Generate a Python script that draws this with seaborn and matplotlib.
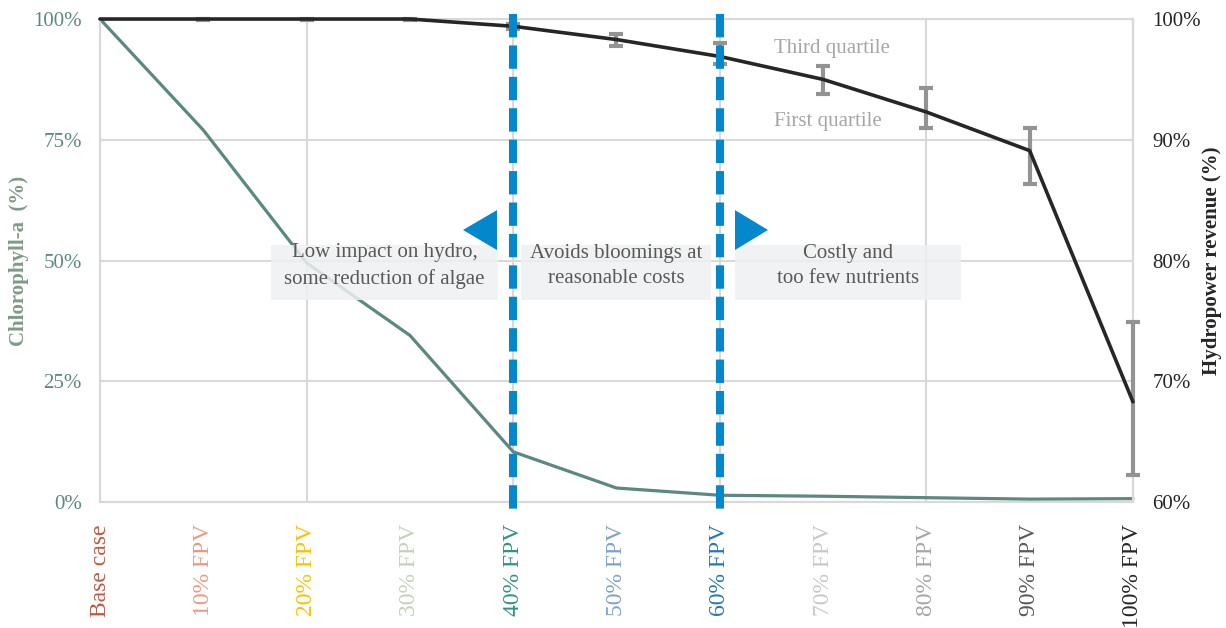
import numpy as np
import pandas as pd
import matplotlib
matplotlib.use('Agg')
import matplotlib.pyplot as plt
from matplotlib.ticker import PercentFormatter
from matplotlib.patches import Rectangle, Polygon
import seaborn as sns

# values
categories = ['Base case', '10% FPV', '20% FPV', '30% FPV', '40% FPV', '50% FPV',
              '60% FPV', '70% FPV', '80% FPV', '90% FPV', '100% FPV']
label_colors = ['#C0583F', '#F0987E', '#FFC000', '#C4D3B8', '#2E9484', '#7FA1CF',
                '#2277BA', '#C8C8C8', '#A6A6A6', '#595959', '#262626']
chlorophyll = [100, 77, 49.5, 34.5, 10.4, 2.9, 1.4, 1.2, 0.9, 0.6, 0.7]
hydro = [100, 100, 100, 100, 99.4, 98.3, 96.9, 95.0, 92.3, 89.1, 68.3]
hydro_q1 = [np.nan, 99.9, 99.9, 99.9, 99.2, 97.8, 96.3, 93.8, 91.0, 86.3, 62.2]
hydro_q3 = [np.nan, 100, 100, 100, 99.6, 98.8, 98.0, 96.1, 94.3, 91.0, 74.9]

df = pd.DataFrame({'pos': np.arange(len(categories)), 'category': categories,
                   'chlorophyll': chlorophyll, 'hydro': hydro,
                   'q1': hydro_q1, 'q3': hydro_q3})

sns.set_style('white')
plt.rcParams['font.family'] = ['Liberation Serif', 'DejaVu Serif']

teal = '#5B8880'
dark = '#262626'
grid_c = '#D9D9D9'
blue = '#0587CC'

fig = plt.figure(figsize=(12.26, 6.28), dpi=100)
ax = fig.add_axes([0.0816, 0.2006, 0.8425, 0.7691])
ax2 = ax.twinx()

# chlorophyll on the left axis
sns.lineplot(data=df, x='pos', y='chlorophyll', ax=ax, color=teal, linewidth=2.3, clip_on=False)
ax.set_xlim(0, 10)
ax.set_ylim(0, 100)
ax.set_yticks([0, 25, 50, 75, 100])
ax.yaxis.set_major_formatter(PercentFormatter(decimals=0))
ax.grid(axis='y', color=grid_c, linewidth=1.5)
for xg in range(0, 11, 2):
    ax.axvline(xg, color=grid_c, linewidth=1.5, zorder=0)
ax.set_xticks(df.pos)
ax.set_xticklabels(categories, rotation=90, va='top', fontsize=17)
for lab, c in zip(ax.get_xticklabels(), label_colors):
    lab.set_color(c)
ax.tick_params(axis='x', length=0, pad=16)
ax.tick_params(axis='y', length=0, pad=13, labelsize=15, labelcolor=teal)
ax.set_xlabel('')
ax.set_ylabel('Chlorophyll-a  (%)', fontsize=15, fontweight='bold', color='#7F9A86', labelpad=3)

for a in (ax, ax2):
    for s in a.spines.values():
        s.set_color(grid_c)
        s.set_linewidth(1.5)
        s.set_zorder(1)

# hydropower revenue on the right axis
eb = ax2.errorbar(df.pos, df.hydro, yerr=[df.hydro - df.q1, df.q3 - df.hydro], fmt='none',
                  ecolor='#939393', elinewidth=3, capsize=5, capthick=3, zorder=2.8)
for art in eb.get_children():
    art.set_clip_on(False)
    art.set_zorder(2.8)
sns.lineplot(data=df, x='pos', y='hydro', ax=ax2, color=dark, linewidth=2.6, zorder=3, clip_on=False)
ax2.set_ylim(60, 100)
ax2.set_yticks([60, 70, 80, 90, 100])
ax2.yaxis.set_major_formatter(PercentFormatter(decimals=0))
ax2.tick_params(axis='y', length=0, pad=14, labelsize=15, labelcolor=dark)
ax2.set_ylabel('Hydropower revenue (%)', fontsize=15, fontweight='bold', color=dark, labelpad=1)
ax2.grid(False)

# annotation boxes
boxes = [(1.655, 3.853, 'Low impact on hydro,\nsome reduction of algae'),
         (4.075, 5.915, 'Avoids bloomings at\nreasonable costs'),
         (6.147, 8.335, 'Costly and\ntoo few nutrients')]
for x0, x1, txt in boxes:
    ax2.add_patch(Rectangle((x0, 76.73), x1 - x0, 4.55, facecolor='#EEF0F2', alpha=0.85,
                            edgecolor='none', zorder=4))
    ax2.text((x0 + x1) / 2, 79.55, txt, ha='center', va='center', fontsize=15,
             color='#595959', zorder=5, linespacing=1.45)

# scenario limits
for xv in (4, 6):
    ax2.plot([xv, xv], [1.0104, -0.0228], transform=ax2.get_xaxis_transform(), color=blue,
             linewidth=5.8, linestyle=(0, (2.9, 1.0)), solid_capstyle='butt',
             dash_capstyle='butt', clip_on=False, zorder=6)

ax2.add_patch(Polygon([[3.514, 82.53], [3.843, 84.18], [3.843, 80.87]], closed=True,
                      facecolor=blue, edgecolor='none', zorder=6))
ax2.add_patch(Polygon([[6.467, 82.53], [6.147, 84.18], [6.147, 80.87]], closed=True,
                      facecolor=blue, edgecolor='none', zorder=6))

ax2.text(6.525, 97.6, 'Third quartile', ha='left', va='center', fontsize=15, color='#A6A6A6')
ax2.text(6.525, 91.55, 'First quartile', ha='left', va='center', fontsize=15, color='#A6A6A6')

fig.savefig('out.png', dpi=100)
